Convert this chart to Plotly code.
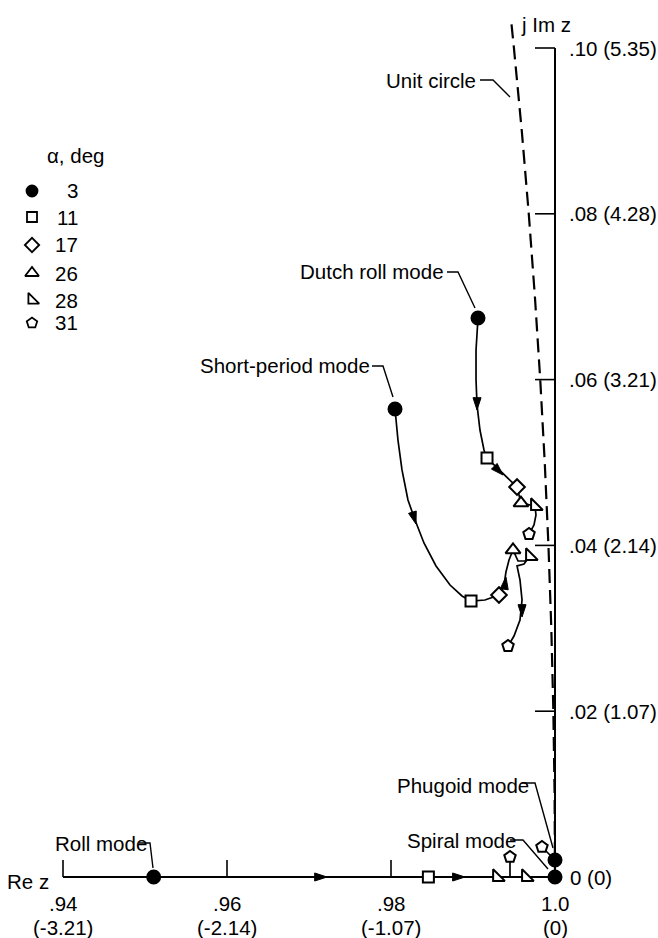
import plotly.graph_objects as go

W, H = 658, 938

# ---------------- data ----------------
alpha_deg = [3, 11, 17, 26, 28, 31]
alpha_symbols = ["circle", "square", "diamond", "triangle-up", "triangle-sw", "pentagon"]

# Dutch roll mode roots for alpha = 3, 11, 17, 26, 28, 31 deg
dutch_re = [0.99061, 0.99171, 0.99537, 0.99585, 0.99756, 0.99683]
dutch_im = [0.06743, 0.05054, 0.04704, 0.04511, 0.04475, 0.04137]
dutch_path_re = [0.99061, 0.99037, 0.99037, 0.99049, 0.99085, 0.99134, 0.99171,
                 0.99537, 0.99585, 0.99756, 0.99768, 0.99744, 0.99683]
dutch_path_im = [0.06743, 0.06357, 0.05995, 0.05694, 0.05392, 0.05151, 0.05054,
                 0.04704, 0.04511, 0.04475, 0.04367, 0.04246, 0.04137]

# Short-period mode roots
sp_re = [0.98049, 0.98976, 0.99317, 0.99488, 0.99695, 0.99427]
sp_im = [0.05645, 0.03329, 0.03402, 0.03945, 0.03872, 0.02786]
sp_path_re = [0.98049, 0.98085, 0.98134, 0.98207, 0.98293, 0.98402, 0.98549, 0.98720,
              0.98866, 0.98976, 0.99146, 0.99317, 0.99378, 0.99402, 0.99439, 0.99488,
              0.99549, 0.99634, 0.99695, 0.99622, 0.99537, 0.99573, 0.99598, 0.99573,
              0.99500, 0.99427]
sp_path_im = [0.05645, 0.05271, 0.04910, 0.04548, 0.04306, 0.04029, 0.03752, 0.03522,
              0.03390, 0.03329, 0.03341, 0.03402, 0.03522, 0.03679, 0.03824, 0.03945,
              0.03812, 0.03812, 0.03872, 0.03776, 0.03752, 0.03583, 0.03341, 0.03100,
              0.02907, 0.02786]

# Roll mode (real axis)
roll_re = [0.95106, 0.98456, 0.99293]
roll_alpha = [3, 11, 28]
# Spiral mode (real axis)
spiral_re = [1.0, 0.99646]
spiral_alpha = [3, 28]
# Roll/spiral coupled root at alpha = 31
coupled_re = [0.99451]
coupled_im = [0.00241]
# Phugoid mode
phugoid_re = [1.0, 0.99841]
phugoid_im = [0.00205, 0.00362]
phugoid_alpha = [3, 31]

# Unit circle |z| = 1
unit_circle_im = [0.0, 0.01, 0.02, 0.03, 0.04, 0.05, 0.06, 0.07, 0.08, 0.09, 0.10, 0.1036]
unit_circle_re = [1.0, 0.99995, 0.9998, 0.99955, 0.9992, 0.99875, 0.9982, 0.99755,
                  0.9968, 0.99595, 0.99499, 0.99462]

# direction arrows on the loci (tip position, heading in degrees)
arrow_re = [0.99049, 0.99366, 0.98305, 0.99402, 0.99598, 0.97220, 0.98902]
arrow_im = [0.05633, 0.04849, 0.04258, 0.03619, 0.03136, 0.0, 0.0]
arrow_heading = [180, 135, 163, 8, 180, 90, 90]

# axes / ticks
re_ticks = [0.94, 0.96, 0.98, 1.0]
re_tick_text = [".94", ".96", ".98", "1.0"]
re_tick_sub = ["(-3.21)", "(-2.14)", "(-1.07)", "(0)"]
im_ticks = [0.02, 0.04, 0.06, 0.08, 0.10]
im_tick_text = [".02 (1.07)", ".04 (2.14)", ".06 (3.21)", ".08 (4.28)", ".10 (5.35)"]

FONT = "Liberation Sans, Arial, sans-serif"
FS = 20.5
sym_of = dict(zip(alpha_deg, alpha_symbols))
size_of = {3: 13, 11: 11, 17: 12, 26: 13, 28: 13, 31: 12}

fig = go.Figure()


def line(xs, ys, width=1.7, dash=None):
    fig.add_trace(go.Scatter(x=xs, y=ys, mode="lines", hoverinfo="skip",
                             line=dict(color="black", width=width, dash=dash),
                             showlegend=False))


def marks(xs, ys, alphas):
    syms = [sym_of[a] for a in alphas]
    cols = ["black" if a == 3 else "white" for a in alphas]
    sizes = [size_of[a] for a in alphas]
    fig.add_trace(go.Scatter(x=xs, y=ys, mode="markers", hoverinfo="skip",
                             marker=dict(symbol=syms, color=cols, size=sizes, opacity=1,
                                         line=dict(color="black", width=2)),
                             showlegend=False))


# unit circle
line(unit_circle_re, unit_circle_im, width=2.2, dash="14px,7px")

# axes
line([re_ticks[0], re_ticks[-1]], [0, 0], width=2.2)
line([1.0, 1.0], [0, im_ticks[-1]], width=2)
for t in re_ticks[:-1]:
    line([t, t], [0, 0.00205], width=1.6)
for t in im_ticks:
    line([1.0 - 0.00244, 1.0], [t, t], width=1.6)

# loci
line(dutch_path_re, dutch_path_im)
line(sp_path_re, sp_path_im)
line([coupled_re[0], coupled_re[0]], [0, coupled_im[0]])
line(phugoid_re, phugoid_im)

marks(dutch_re, dutch_im, alpha_deg)
marks(sp_re, sp_im, alpha_deg)
marks(roll_re, [0] * len(roll_re), roll_alpha)
marks(spiral_re, [0] * len(spiral_re), spiral_alpha)
marks(coupled_re, coupled_im, [31])
marks(phugoid_re, phugoid_im, phugoid_alpha)

# arrowheads
fig.add_trace(go.Scatter(x=arrow_re, y=arrow_im, mode="markers", hoverinfo="skip",
                         marker=dict(symbol="arrow", size=13, color="black", opacity=1,
                                     angle=arrow_heading,
                                     line=dict(color="black", width=1)),
                         showlegend=False))

ann = []
shapes = []


def px(p):
    return p / W


def py(q):
    return 1 - q / H


def text(s, x, y, xa="left", xref="paper", yref="paper"):
    ann.append(dict(text=s, x=x, y=y, xref=xref, yref=yref, xanchor=xa,
                    yanchor="middle", showarrow=False,
                    font=dict(family=FONT, size=FS, color="black")))


def leader(pts):
    d = "M " + " L ".join(f"{px(a):.5f},{py(b):.5f}" for a, b in pts)
    shapes.append(dict(type="path", path=d, xref="paper", yref="paper",
                       line=dict(color="black", width=1.4)))


# tick labels
for t, s, s2 in zip(re_ticks, re_tick_text, re_tick_sub):
    text(s, t, -0.00314, xa="center", xref="x", yref="y")
    text(s2, t, -0.00615, xa="center", xref="x", yref="y")
for t, s in zip(im_ticks, im_tick_text):
    text(s, 1.00146, t, xref="x", yref="y")
text("0 (0)", 1.00159, 0.0, xref="x", yref="y")
text("Re z", px(51), py(881), xa="right")
text("j Im z", px(546), py(25), xa="center")

# mode labels
text("Unit circle", px(478), py(80), xa="right")
leader([(480, 80), (493, 80), (510, 97)])
text("Dutch roll mode", px(298), py(271))
leader([(447, 272), (458, 272), (475, 308)])
text("Short-period mode", px(198), py(366))
leader([(372, 366), (383, 366), (393, 397)])
text("Phugoid mode", px(395), py(785))
leader([(522, 783), (535, 783), (553, 848)])
text("Spiral mode", px(405), py(840))
leader([(510, 840), (523, 840), (548, 869)])
text("Roll mode", px(53), py(843))
leader([(139, 843), (150, 843), (153, 868)])

# key
text("α, deg", px(45), py(155))
key_rows = [191, 217, 245, 273, 300, 323]
for a, s, q in zip(alpha_deg, alpha_symbols, key_rows):
    text(str(a), px(80), py(q), xa="right")
fig.add_trace(go.Scatter(
    x=[px(32)] * len(alpha_deg), y=[py(q) for q in key_rows],
    xaxis="x2", yaxis="y2", mode="markers", hoverinfo="skip", showlegend=False,
    marker=dict(symbol=alpha_symbols, opacity=1,
                color=["black"] + ["white"] * 5, size=[11, 10, 11, 12, 12, 11],
                line=dict(color="black", width=1.8))))

fig.update_layout(
    width=W, height=H, margin=dict(l=0, r=0, t=0, b=0, pad=0),
    paper_bgcolor="white", plot_bgcolor="white",
    xaxis=dict(range=[0.932317, 1.012561], visible=False, fixedrange=True),
    yaxis=dict(range=[-0.007358, 0.105790], visible=False, fixedrange=True),
    xaxis2=dict(range=[0, 1], visible=False, overlaying="x", fixedrange=True),
    yaxis2=dict(range=[0, 1], visible=False, overlaying="y", fixedrange=True),
    annotations=ann, shapes=shapes, showlegend=False,
)

fig.write_html("out.html", config={"displayModeBar": False},
               post_script="document.body.style.margin='0';document.body.style.overflow='hidden';")
